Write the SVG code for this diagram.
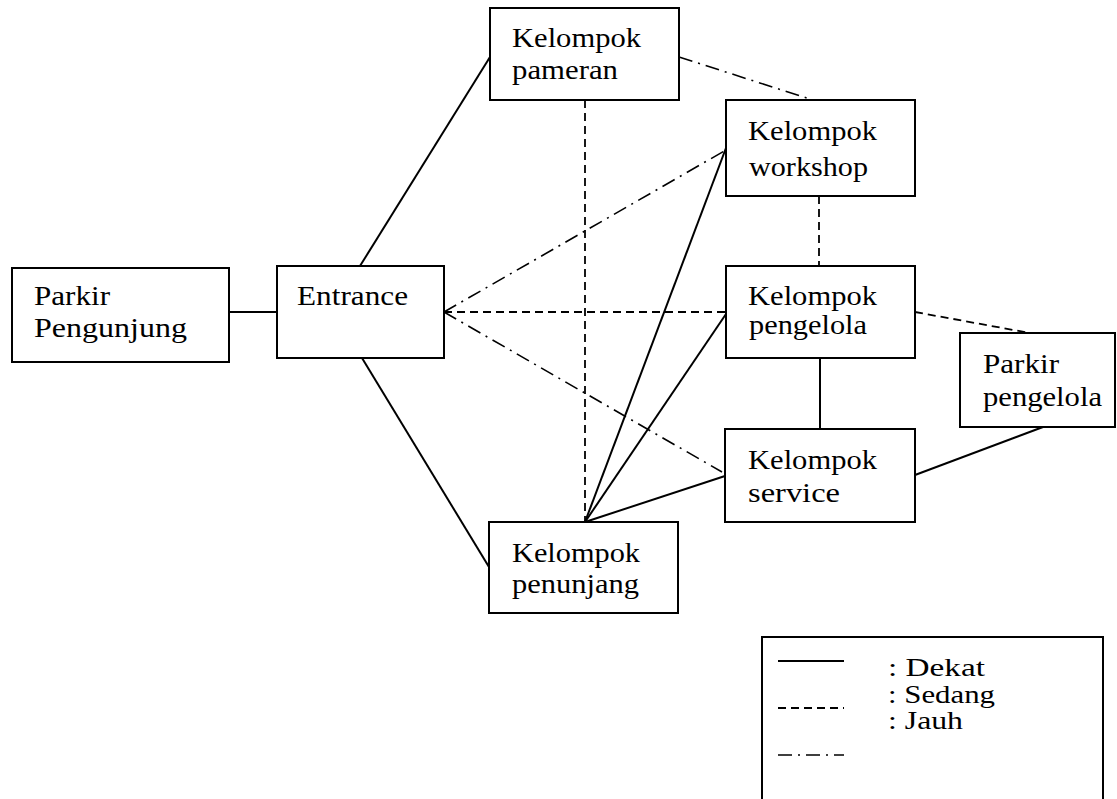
<svg xmlns="http://www.w3.org/2000/svg" width="1117" height="799" viewBox="0 0 1117 799">
<style>
.box{fill:#fff;stroke:#000;stroke-width:2}
text{font-family:'Liberation Serif','Times New Roman',Times,serif;font-size:28px;fill:#000}
.lg{font-size:25px}
.solid{stroke:#000;stroke-width:2;fill:none}
.dash{stroke:#000;stroke-width:1.8;fill:none;stroke-dasharray:8 5}
.dd{stroke:#000;stroke-width:1.6;fill:none;stroke-dasharray:14 6 2 6}
</style>
<rect width="1117" height="799" fill="#fff"/>
<g id="connectors">
<line class="solid" x1="229" y1="312" x2="277" y2="312"/>
<line class="solid" x1="360" y1="266" x2="490" y2="57"/>
<line class="solid" x1="362" y1="358" x2="489" y2="567"/>
<line class="dd" x1="679" y1="57" x2="813" y2="100"/>
<line class="dash" x1="585" y1="100" x2="585" y2="522"/>
<line class="dd" x1="444" y1="312" x2="726" y2="150"/>
<line class="solid" x1="726" y1="148" x2="585" y2="522"/>
<line class="dash" x1="819" y1="196" x2="819" y2="266"/>
<line class="dash" x1="444" y1="312" x2="726" y2="312"/>
<line class="solid" x1="726" y1="314" x2="585" y2="522"/>
<line class="dd" x1="444" y1="312" x2="722" y2="472"/>
<line class="solid" x1="725" y1="476" x2="585" y2="522"/>
<line class="dash" x1="915" y1="312" x2="1030" y2="333"/>
<line class="solid" x1="820" y1="358" x2="820" y2="429"/>
<line class="solid" x1="915" y1="475" x2="1043" y2="427"/>
</g>
<g id="parkir-pengunjung">
<rect class="box" x="12" y="268" width="217" height="94"/>
<text x="34" y="305" textLength="76" lengthAdjust="spacingAndGlyphs">Parkir</text>
<text x="34" y="337" textLength="153" lengthAdjust="spacingAndGlyphs">Pengunjung</text>
</g>
<g id="entrance">
<rect class="box" x="277" y="266" width="167" height="92"/>
<text x="297" y="305" textLength="111" lengthAdjust="spacingAndGlyphs">Entrance</text>
</g>
<g id="kelompok-pameran">
<rect class="box" x="490" y="8" width="189" height="92"/>
<text x="512" y="47" textLength="129" lengthAdjust="spacingAndGlyphs">Kelompok</text>
<text x="512" y="79" textLength="106" lengthAdjust="spacingAndGlyphs">pameran</text>
</g>
<g id="kelompok-workshop">
<rect class="box" x="726" y="100" width="189" height="96"/>
<text x="748" y="140" textLength="129" lengthAdjust="spacingAndGlyphs">Kelompok</text>
<text x="749" y="176" textLength="119" lengthAdjust="spacingAndGlyphs">workshop</text>
</g>
<g id="kelompok-pengelola">
<rect class="box" x="726" y="266" width="189" height="92"/>
<text x="748" y="305" textLength="129" lengthAdjust="spacingAndGlyphs">Kelompok</text>
<text x="749" y="334" textLength="118" lengthAdjust="spacingAndGlyphs">pengelola</text>
</g>
<g id="parkir-pengelola">
<rect class="box" x="960" y="333" width="155" height="94"/>
<text x="983" y="373" textLength="76" lengthAdjust="spacingAndGlyphs">Parkir</text>
<text x="983" y="406" textLength="119" lengthAdjust="spacingAndGlyphs">pengelola</text>
</g>
<g id="kelompok-service">
<rect class="box" x="725" y="429" width="190" height="93"/>
<text x="748" y="469" textLength="129" lengthAdjust="spacingAndGlyphs">Kelompok</text>
<text x="748" y="502" textLength="92" lengthAdjust="spacingAndGlyphs">service</text>
</g>
<g id="kelompok-penunjang">
<rect class="box" x="489" y="522" width="189" height="91"/>
<text x="512" y="562" textLength="128" lengthAdjust="spacingAndGlyphs">Kelompok</text>
<text x="512" y="593" textLength="127" lengthAdjust="spacingAndGlyphs">penunjang</text>
</g>
<g id="legend">
<rect class="box" x="762" y="637" width="341" height="175"/>
<line class="solid" x1="778" y1="661" x2="844" y2="661"/>
<line class="dash" x1="778" y1="708" x2="844" y2="708"/>
<line class="dd" x1="778" y1="755" x2="844" y2="755"/>
<text class="lg" x="888" y="676" textLength="97" lengthAdjust="spacingAndGlyphs">: Dekat</text>
<text class="lg" x="888" y="703" textLength="107" lengthAdjust="spacingAndGlyphs">: Sedang</text>
<text class="lg" x="888" y="729" textLength="75" lengthAdjust="spacingAndGlyphs">: Jauh</text>
</g>
</svg>
